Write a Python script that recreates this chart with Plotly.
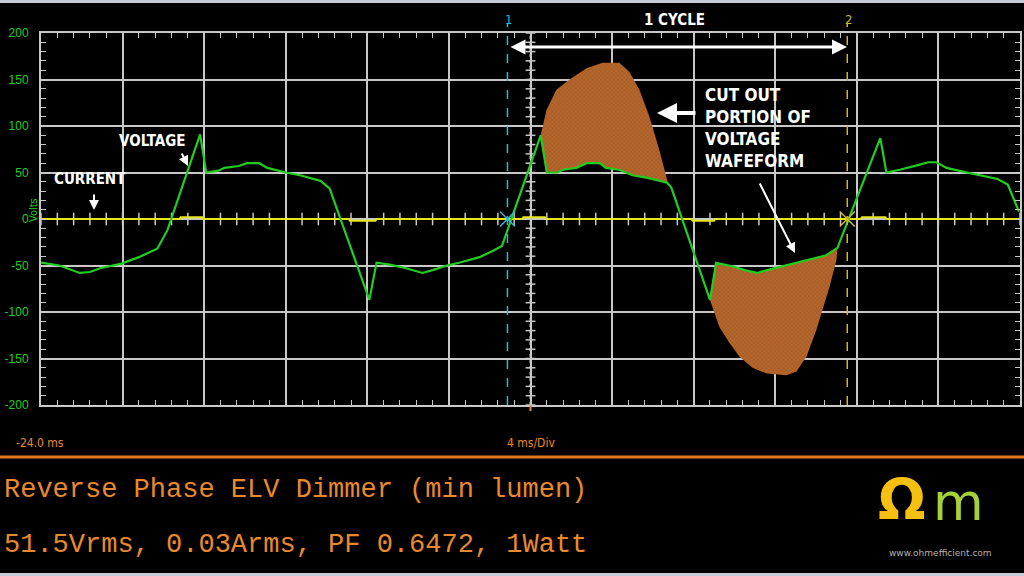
import numpy as np
import plotly.graph_objects as go

# ---------------- data ----------------
volt_t = [-24.0, -23.1, -22.1, -21.6, -21.1, -20.05, -19.2, -18.3, -17.8, -16.2, -15.9, -15.3, -15.0,
          -14.3, -13.9, -13.3, -12.9, -12.0, -11.3, -10.3, -9.85, -7.9, -7.55, -6.9, -6.1, -5.3, -4.8,
          -4.1, -3.5, -2.5, -1.9, -1.4, 0.5, 0.8, 1.3, 1.6, 2.25, 2.75, 3.4, 3.7, 4.35, 5.0, 5.8, 6.7,
          6.9, 8.8, 9.1, 9.9, 10.5, 11.1, 11.6, 12.55, 13.5, 14.5, 15.05, 17.15, 17.45, 18.1, 19.0,
          19.5, 19.9, 20.4, 21.2, 22.2, 22.9, 23.4, 23.95]
volt_v = [-47, -50, -58, -57, -53, -48, -41, -32, -12, 91, 50, 52, 55, 57, 60, 60, 55, 50, 47, 41, 33,
          -87, -47, -49, -53, -58, -55, -50, -47, -41, -35, -29, 90, 50, 50, 53, 55, 60, 60, 55, 53, 47,
          44, 39, 34, -87, -47, -51, -55, -58, -55, -50, -45, -39, -31, 87, 50, 53, 58, 61, 61, 55, 51,
          46, 43, 37, 8]

cur_t = [-24, -17.2, -17.15, -16.1, -16.05, -8.9, -8.85, -7.6, -7.55, -0.4, -0.35, 0.7, 0.75, 7.9,
         7.95, 9.0, 9.05, 16.2, 16.25, 17.4, 17.45, 24]
cur_v = [0, 0, 2, 2, 0, 0, -2, -2, 0, 0, 2, 2, 0, 0, -2, -2, 0, 0, 2, 2, 0, 0]

cut_top_t = [0.5, 0.78, 1.27, 1.91, 2.75, 3.53, 4.36, 4.85, 5.34, 5.83, 6.32, 6.72, 6.9]
cut_top_v = [90, 117, 139, 150, 162, 168, 168, 158, 139, 110, 74, 40, 34]
cut_bot_t = [8.8, 9.26, 9.75, 10.25, 10.88, 11.57, 12.55, 13.04, 13.53, 14.02, 14.31, 14.66, 15.0, 15.05]
cut_bot_v = [-87, -116, -133, -148, -160, -166, -168, -164, -148, -119, -98, -73, -44, -31]

cursor1_t = -1.13
cursor2_t = 15.53

y_ticks = [200, 150, 100, 50, 0, -50, -100, -150, -200]
y_labels = ["200", "150", "100", "50", "0", "-50", "-100", "-150", "-200"]

title_line1 = "Reverse Phase ELV Dimmer (min lumen)"
title_line2 = "51.5Vrms, 0.03Arms, PF 0.6472, 1Watt"

# ---------------- layout helpers ----------------
W, H = 1024, 576
L, R, T, B = 41, 4, 33, 171
PW, PH = W - L - R, H - T - B


def px(x):
    return (x - L) / PW


def py(y):
    return (H - B - y) / PH


GRID = "#c8c8c8"
GREEN = "#22cc22"
ORANGE = "#e8892e"
CYAN = "#30b8d0"
YEL = "#d0b820"
NARROW = "Liberation Sans Narrow, DejaVu Sans Condensed, Arial Narrow, Liberation Sans, sans-serif"

fig = go.Figure()


def region(top_t, top_v, inside_lo, inside_hi):
    seg = [(t, v) for t, v in zip(volt_t, volt_v) if inside_lo <= t <= inside_hi]
    xs = list(top_t) + [p[0] for p in reversed(seg)]
    ys = list(top_v) + [p[1] for p in reversed(seg)]
    return xs, ys


pat = dict(shape="x", size=3, solidity=0.25, fgcolor="#7c3e12", bgcolor="#b4662c")
ux, uy = region(cut_top_t, cut_top_v, cut_top_t[0], cut_top_t[-1])
fig.add_trace(go.Scatter(x=ux, y=uy, fill="toself", fillcolor="#b4662c", fillpattern=pat,
                         mode="lines", line=dict(width=0), hoverinfo="skip", showlegend=False))
bx, by = region(cut_bot_t, cut_bot_v, cut_bot_t[0], cut_bot_t[-1])
fig.add_trace(go.Scatter(x=bx, y=by, fill="toself", fillcolor="#b4662c", fillpattern=pat,
                         mode="lines", line=dict(width=0), hoverinfo="skip", showlegend=False))

# center axis decorations
xt = np.arange(-24, 24.01, 0.8)
fig.add_trace(go.Scatter(x=xt, y=np.zeros_like(xt), mode="markers",
                         marker=dict(symbol="line-ns", size=9, line=dict(color=GRID, width=1.5)),
                         hoverinfo="skip", showlegend=False))
yt = np.arange(-200, 200.1, 10)
fig.add_trace(go.Scatter(x=np.zeros_like(yt), y=yt, mode="markers",
                         marker=dict(symbol="line-ew", size=7, line=dict(color=GRID, width=1.5)),
                         hoverinfo="skip", showlegend=False))

# current
fig.add_trace(go.Scatter(x=cur_t, y=cur_v, mode="lines", line=dict(color="#e6e61a", width=2),
                         hoverinfo="skip", showlegend=False))
# voltage
fig.add_trace(go.Scatter(x=volt_t, y=volt_v, mode="lines", line=dict(color=GREEN, width=2.2),
                         hoverinfo="skip", showlegend=False))

# cursor crosses
fig.add_trace(go.Scatter(x=[cursor1_t], y=[0], mode="markers",
                         marker=dict(symbol="x-thin-open", size=15, color=CYAN, line=dict(color=CYAN, width=1.5)),
                         hoverinfo="skip", showlegend=False))
fig.add_trace(go.Scatter(x=[cursor2_t], y=[0], mode="markers",
                         marker=dict(symbol="x-thin-open", size=15, color=YEL, line=dict(color=YEL, width=1.5)),
                         hoverinfo="skip", showlegend=False))

shapes = [
    dict(type="line", xref="x", yref="paper", x0=0, x1=0, y0=0, y1=1,
         line=dict(color=GRID, width=2, dash="dot"), layer="below"),
    dict(type="line", xref="x", yref="paper", x0=cursor1_t, x1=cursor1_t, y0=0, y1=py(24),
         line=dict(color=CYAN, width=1.5, dash="dash")),
    dict(type="line", xref="x", yref="paper", x0=cursor2_t, x1=cursor2_t, y0=0, y1=py(24),
         line=dict(color=YEL, width=1.5, dash="dash")),
    dict(type="line", xref="x", yref="paper", x0=0, x1=0, y0=py(405), y1=py(411),
         line=dict(color=ORANGE, width=2)),
    dict(type="line", xref="paper", yref="paper", x0=px(0), x1=px(W), y0=py(457), y1=py(457),
         line=dict(color="#e07a22", width=3)),
    dict(type="rect", xref="paper", yref="paper", x0=px(0), x1=px(W), y0=py(0), y1=py(3),
         line=dict(width=0), fillcolor="#c5ccd6"),
    dict(type="rect", xref="paper", yref="paper", x0=px(0), x1=px(W), y0=py(573), y1=py(576),
         line=dict(width=0), fillcolor="#c5ccd6"),
]

WB = dict(family=NARROW, size=15, color="white")
ann = []


def txt(x, y, s, font, xanchor="center", align="center"):
    ann.append(dict(x=px(x), y=py(y), xref="paper", yref="paper", text=s, showarrow=False,
                    font=font, xanchor=xanchor, yanchor="middle", align=align))


def arrow(x, y, ax, ay, width=2, side="end"):
    ann.append(dict(x=px(x), y=py(y), xref="paper", yref="paper", ax=ax - x, ay=ay - y,
                    text="", showarrow=True, arrowhead=2,
                    arrowsize=1, arrowwidth=width, arrowcolor="white", arrowside=side))


txt(152, 141, "<b>VOLTAGE</b>", WB)
arrow(188, 166, 181, 152, 2)
txt(90, 179, "<b>CURRENT</b>", WB)
arrow(94, 210, 94, 193, 2)
txt(674, 20, "<b>1 CYCLE</b>", WB)
arrow(847, 47, 509, 47, 3, "end+start")
txt(703, 128, "<b>CUT OUT<br>PORTION OF<br>VOLTAGE<br>WAFEFORM</b>",
    dict(family=NARROW, size=17, color="white"), xanchor="left", align="left")
arrow(657, 113, 697, 113, 4)
arrow(795, 253, 759, 182, 2)
txt(508, 19, "1", dict(family=NARROW, size=13, color=CYAN))
txt(848, 19, "2", dict(family=NARROW, size=13, color=YEL))
txt(40, 443, "-24.0 ms", dict(family=NARROW, size=12, color=ORANGE))
txt(531, 443, "4 ms/Div", dict(family=NARROW, size=12, color=ORANGE))
ann.append(dict(x=px(33), y=py(210), xref="paper", yref="paper", text="Volts", showarrow=False,
                textangle=-90, xanchor="center", yanchor="middle",
                font=dict(family=NARROW, size=11, color=GREEN)))
MONO = dict(family="Liberation Mono, Courier New, monospace", size=27, color=ORANGE)
txt(2, 490, title_line1, MONO, xanchor="left", align="left")
txt(2, 545, title_line2, MONO, xanchor="left", align="left")
# logo
txt(902, 500, "<b>Ω</b>", dict(family="DejaVu Sans, sans-serif", size=56, color="#f5c010"))
txt(958, 502, "m", dict(family="DejaVu Sans, sans-serif", size=52, color="#a4d23a"))
txt(940, 553, "www.ohmefficient.com", dict(family="DejaVu Sans, sans-serif", size=9, color="#b0b0b0"))

fig.update_layout(
    width=W, height=H, margin=dict(l=L, r=R, t=T, b=B, autoexpand=False),
    paper_bgcolor="black", plot_bgcolor="black",
    shapes=shapes, annotations=ann, showlegend=False,
    xaxis=dict(range=[-24, 24], tick0=-24, dtick=4, showgrid=True, gridcolor=GRID, gridwidth=2,
               zeroline=False, showline=True, linecolor=GRID, linewidth=2, mirror="allticks",
               ticks="inside", ticklen=5, tickcolor=GRID, showticklabels=False, automargin=False,
               minor=dict(dtick=0.8, tick0=-24, ticks="inside", ticklen=5, tickcolor=GRID, showgrid=False)),
    yaxis=dict(range=[-200, 200], tickvals=y_ticks, ticktext=y_labels, showgrid=True, gridcolor=GRID,
               gridwidth=2, zeroline=False, showline=True, linecolor=GRID, linewidth=2, mirror="allticks",
               ticks="inside", ticklen=5, tickcolor=GRID, ticklabelstandoff=8, automargin=False,
               tickfont=dict(family="Liberation Sans Narrow, Liberation Sans, sans-serif", size=12, color=GREEN),
               minor=dict(dtick=10, tick0=0, ticks="inside", ticklen=5, tickcolor=GRID, showgrid=False)),
)

fig.write_html("out.html", config={"displayModeBar": False},
               post_script="document.body.style.margin='0';document.body.style.overflow='hidden';")
